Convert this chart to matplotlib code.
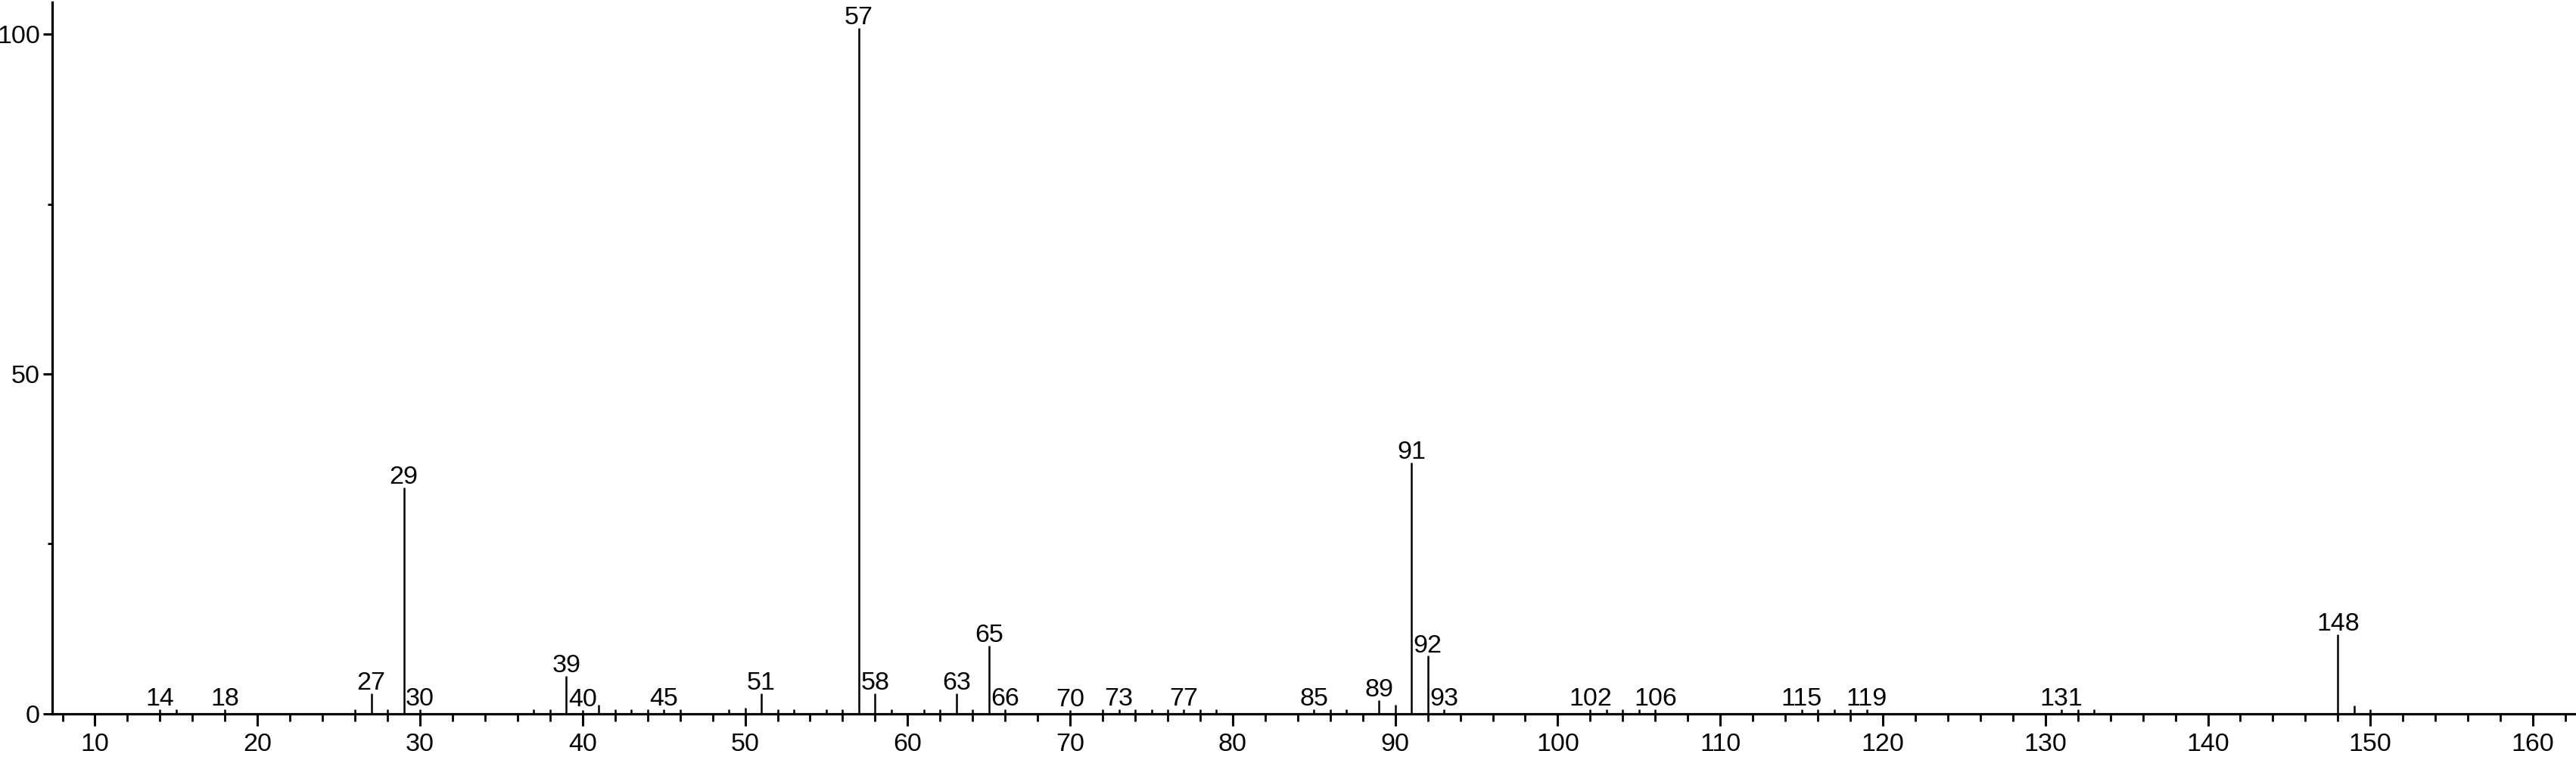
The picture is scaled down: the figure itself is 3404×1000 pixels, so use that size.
import matplotlib
matplotlib.use("Agg")
import matplotlib.pyplot as plt
from matplotlib.ticker import MultipleLocator, FixedLocator

plt.rcParams['font.family'] = ['Liberation Sans', 'DejaVu Sans']

# m/z values and relative intensities (%)
mz = [14, 15, 18, 26, 27, 28, 29, 30, 37, 38, 39, 40, 41, 42, 43, 44, 45, 46,
      49, 50, 51, 52, 53, 55, 56, 57, 58, 59, 61, 62, 63, 64, 65, 66, 70, 72,
      73, 74, 75, 76, 77, 78, 79, 85, 86, 87, 89, 90, 91, 92, 93, 102, 103,
      104, 105, 106, 115, 116, 117, 118, 119, 131, 132, 133, 148, 149, 150]
intensity = [0.6, 0.6, 0.6, 0.6, 3.0, 0.6, 33.3, 0.6, 0.6, 0.6, 5.5, 0.5, 1.35,
             0.6, 0.6, 0.6, 0.6, 0.6, 0.6, 0.9, 3.0, 0.6, 0.6, 0.6, 0.6, 100.9,
             3.0, 0.6, 0.6, 0.6, 3.0, 0.6, 10.0, 0.6, 0.5, 0.6, 0.6, 0.6, 0.6,
             0.6, 0.6, 0.6, 0.6, 0.6, 0.6, 0.6, 2.0, 1.35, 37.0, 8.5, 0.6, 0.6,
             0.6, 0.6, 0.6, 0.6, 0.6, 0.6, 0.6, 0.6, 0.6, 0.6, 0.6, 0.6, 11.7,
             1.2, 0.6]

# peaks that carry a text label
labelled_mz = [14, 18, 27, 29, 30, 39, 40, 45, 51, 57, 58, 63, 65, 66, 70, 73,
               77, 85, 89, 91, 92, 93, 102, 106, 115, 119, 131, 148]

x_major = list(range(10, 161, 10))
y_major = [0, 50, 100]
y_minor = [25, 75]

fig = plt.figure(figsize=(34.04, 10), dpi=100)
ax = fig.add_axes([69 / 3404, 1 - 942.7 / 1000, 1 - 69 / 3404, (942.7 - 3) / 1000])

ax.vlines(mz, 0, intensity, colors='black', linewidth=1.8)

lookup = dict(zip(mz, intensity))
for m in labelled_mz:
    ax.annotate(str(m), (m, lookup[m]), xytext=(0, 3.5), textcoords='offset points',
                ha='center', va='baseline', fontsize=24.5, clip_on=False)

ax.set_xlim(7.37, 162.65)
ax.set_ylim(0, 104.7)

ax.spines['top'].set_visible(False)
ax.spines['right'].set_visible(False)
for s in ('left', 'bottom'):
    ax.spines[s].set_linewidth(2.3)

ax.xaxis.set_major_locator(FixedLocator(x_major))
ax.xaxis.set_minor_locator(MultipleLocator(2))
ax.yaxis.set_major_locator(FixedLocator(y_major))
ax.yaxis.set_minor_locator(FixedLocator(y_minor))

ax.tick_params(axis='x', which='major', direction='out', length=11.5, width=2.2,
               pad=7, labelsize=24.5)
ax.tick_params(axis='x', which='minor', direction='out', length=7, width=2.0)
ax.tick_params(axis='y', which='major', direction='out', length=8.6, width=2.2,
               pad=3, labelsize=24.5)
ax.tick_params(axis='y', which='minor', direction='out', length=4.3, width=2.0)

fig.savefig('out.png', dpi=100, facecolor='white')
